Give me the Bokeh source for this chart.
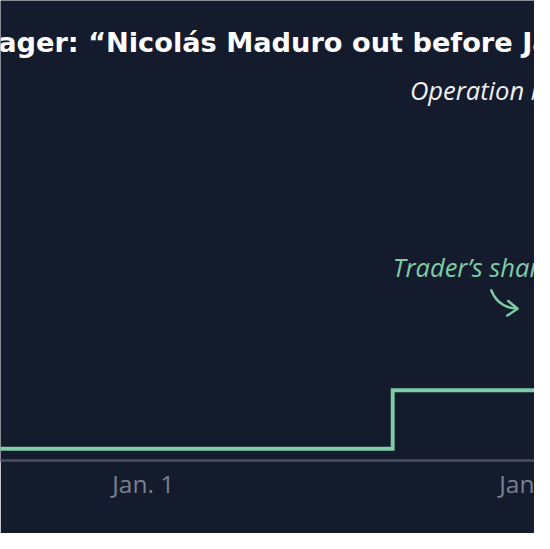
from bokeh.plotting import figure
from bokeh.models import Range1d, FixedTicker, Label, ColumnDataSource
from bokeh.embed import file_html
from bokeh.resources import INLINE

# Data: hours since Jan. 1 00:00 and the trader's share price (cents)
hours = [-12.0, 15.38, 26.0]
price = [2.6, 15.55, 15.55]
tick_hours = [0, 24]
tick_labels = ["Jan. 1", "Jan"]

BG = "#141b2d"
GREEN = "#7fcda6"

src = ColumnDataSource(dict(hours=hours, price=price))

p = figure(width=534, height=533, output_backend="svg", toolbar_location=None,
           x_range=Range1d(-8.797, 24.121), y_range=Range1d(0, 101.9),
           y_axis_location=None, title=None,
           background_fill_color=BG, border_fill_color=BG, outline_line_color=None,
           min_border_left=0, min_border_right=0, min_border_top=0, min_border_bottom=73)
p.grid.visible = False

ax = p.xaxis[0]
ax.ticker = FixedTicker(ticks=tick_hours)
ax.major_label_overrides = {h: t for h, t in zip(tick_hours, tick_labels)}
ax.major_tick_line_color = None
ax.minor_tick_line_color = None
ax.major_tick_out = 0
ax.major_tick_in = 0
ax.axis_line_color = "#4b4f5d"
ax.axis_line_width = 2.4
ax.major_label_text_font = "Open Sans"
ax.major_label_text_font_size = "24.5px"
ax.major_label_text_color = "#7b808d"
ax.major_label_standoff = 6

p.step(x="hours", y="price", source=src, mode="after", line_color=GREEN,
       line_width=3.9, line_join="miter")

p.add_layout(Label(x=-10.49, y=92.64, text="wager: \u201cNicol\u00e1s Maduro out before Jan. 31\u201d",
                   text_font="DejaVu Sans", text_font_style="bold", text_font_size="27.2px",
                   text_color="#ffffff", text_baseline="alphabetic", text_align="left"))
p.add_layout(Label(x=16.44, y=82.0, text="Operation begins",
                   text_font="Open Sans", text_font_style="italic", text_font_size="25.5px",
                   text_color="#f0f0f0", text_baseline="alphabetic", text_align="left"))
p.add_layout(Label(x=15.38, y=42.96, text="Trader\u2019s shares",
                   text_font="Open Sans", text_font_style="italic", text_font_size="25.5px",
                   text_color=GREEN, text_baseline="alphabetic", text_align="left"))

# curved pointer arrow
p.quadratic(x0=[21.43], y0=[37.91], x1=[23.08], y1=[33.61], cx=[21.85], cy=[33.83],
            line_color=GREEN, line_width=2.4)
p.line(x=[22.50, 23.08, 22.44], y=[35.33, 33.61, 32.10], line_color=GREEN,
       line_width=2.4, line_join="round", line_cap="round")

open("out.html", "w").write(file_html(p, INLINE))
